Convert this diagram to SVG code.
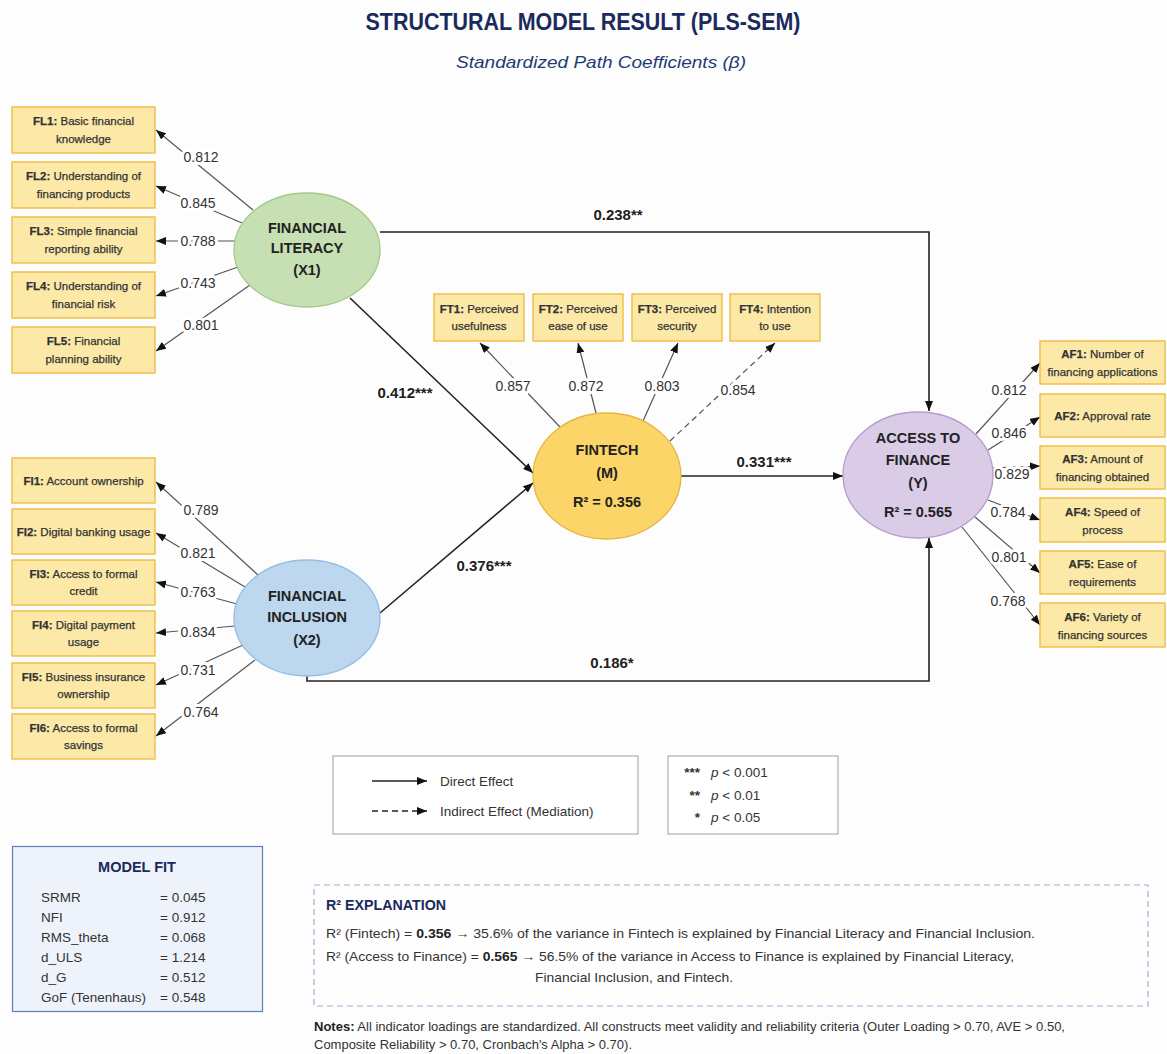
<svg xmlns="http://www.w3.org/2000/svg" width="1167" height="1054" viewBox="0 0 1167 1054">
<style>
.bx{fill:#fce9a8;stroke:#f0b835;stroke-width:1.3}
.bt{font-family:"Liberation Sans",Arial,sans-serif;font-size:11.5px;fill:#333;stroke:#333;stroke-width:0.25;text-anchor:middle}
.ct{font-family:"Liberation Sans",Arial,sans-serif;font-size:14.5px;font-weight:bold;fill:#222;text-anchor:middle}
.ld{font-family:"Liberation Sans",Arial,sans-serif;font-size:14px;fill:#333;text-anchor:middle;paint-order:stroke;stroke:#fff;stroke-width:6;stroke-linejoin:round}
.pc{font-family:"Liberation Sans",Arial,sans-serif;font-size:15px;font-weight:bold;fill:#222;text-anchor:middle;paint-order:stroke;stroke:#fff;stroke-width:6;stroke-linejoin:round}
.ll{stroke:#555;stroke-width:1.2;fill:none;marker-end:url(#ah)}
.sl{stroke:#222;stroke-width:1.6;fill:none;marker-end:url(#ah)}
.tx{font-family:"Liberation Sans",Arial,sans-serif;font-size:13.5px;fill:#333}
.nv{fill:#1b2a5c}
</style>
<defs>
<marker id="ah" viewBox="0 0 10 8" refX="10" refY="4" markerWidth="10" markerHeight="8" markerUnits="userSpaceOnUse" orient="auto"><path d="M0,0 L10,4 L0,8 z" fill="#111"/></marker>
</defs>
<rect width="1167" height="1054" fill="#fdfdfd"/>

<text x="583" y="30" font-family="Liberation Sans,Arial,sans-serif" font-size="24" font-weight="bold" fill="#1b2a5c" text-anchor="middle" textLength="435" lengthAdjust="spacingAndGlyphs">STRUCTURAL MODEL RESULT (PLS-SEM)</text>
<text x="601" y="68" font-family="Liberation Sans,Arial,sans-serif" font-size="16.5" font-style="italic" fill="#1f3a73" text-anchor="middle" textLength="290" lengthAdjust="spacingAndGlyphs">Standardized Path Coefficients (β)</text>

<g id="connectors">
<!-- FL loadings -->
<line class="ll" x1="253" y1="210" x2="156" y2="130"/>
<line class="ll" x1="242" y1="223" x2="156" y2="186"/>
<line class="ll" x1="235" y1="241" x2="156" y2="241"/>
<line class="ll" x1="238" y1="267" x2="156" y2="296"/>
<line class="ll" x1="250" y1="285" x2="156" y2="351"/>
<!-- FI loadings -->
<line class="ll" x1="258" y1="575" x2="156" y2="482"/>
<line class="ll" x1="245" y1="587" x2="156" y2="533"/>
<line class="ll" x1="237" y1="604" x2="156" y2="582"/>
<line class="ll" x1="235" y1="626" x2="156" y2="633"/>
<line class="ll" x1="243" y1="645" x2="156" y2="685"/>
<line class="ll" x1="255" y1="660" x2="156" y2="736"/>
<!-- FT loadings -->
<line class="ll" x1="560" y1="427" x2="480" y2="343"/>
<line class="ll" x1="596" y1="413" x2="578" y2="343"/>
<line class="ll" x1="643" y1="421" x2="678" y2="343"/>
<line class="ll" x1="670" y1="441" x2="775" y2="343" stroke="#999" stroke-dasharray="6 4"/>
<!-- AF loadings -->
<line class="ll" x1="976" y1="434" x2="1040" y2="363"/>
<line class="ll" x1="988" y1="450" x2="1040" y2="417"/>
<line class="ll" x1="993" y1="468" x2="1040" y2="466"/>
<line class="ll" x1="988" y1="500" x2="1040" y2="520"/>
<line class="ll" x1="975" y1="517" x2="1040" y2="573"/>
<line class="ll" x1="962" y1="527" x2="1040" y2="625"/>
<!-- structural paths -->
<path class="sl" d="M380,232 H929 V411"/>
<line class="sl" x1="350" y1="298" x2="533" y2="473"/>
<line class="sl" x1="380" y1="613" x2="533" y2="483"/>
<line class="sl" x1="681" y1="476" x2="843" y2="476"/>
<path class="sl" d="M307,675 V681 H929 V538"/>
<!-- loading labels -->
<text class="ld" x="201" y="162">0.812</text>
<text class="ld" x="198" y="208">0.845</text>
<text class="ld" x="198" y="246">0.788</text>
<text class="ld" x="198" y="288">0.743</text>
<text class="ld" x="201" y="330">0.801</text>
<text class="ld" x="201" y="515">0.789</text>
<text class="ld" x="198" y="558">0.821</text>
<text class="ld" x="198" y="597">0.763</text>
<text class="ld" x="198" y="637">0.834</text>
<text class="ld" x="198" y="675">0.731</text>
<text class="ld" x="201" y="717">0.764</text>
<text class="ld" x="513" y="391">0.857</text>
<text class="ld" x="586" y="391">0.872</text>
<text class="ld" x="662" y="391">0.803</text>
<text class="ld" x="738" y="395">0.854</text>
<text class="ld" x="1009" y="395">0.812</text>
<text class="ld" x="1009" y="438">0.846</text>
<text class="ld" x="1012" y="479">0.829</text>
<text class="ld" x="1008" y="517">0.784</text>
<text class="ld" x="1009" y="562">0.801</text>
<text class="ld" x="1008" y="606">0.768</text>
<!-- path coefficient labels -->
<text class="pc" x="618" y="220">0.238**</text>
<text class="pc" x="405" y="398">0.412***</text>
<text class="pc" x="484" y="571">0.376***</text>
<text class="pc" x="764" y="467">0.331***</text>
<text class="pc" x="612" y="668">0.186*</text>
</g>

<g id="FL">
<ellipse cx="307" cy="250" rx="73" ry="57" fill="#c6e0b4" stroke="#a3c987" stroke-width="1.3"/>
<text class="ct" x="307" y="233">FINANCIAL</text>
<text class="ct" x="307" y="253">LITERACY</text>
<text class="ct" x="307" y="275">(X1)</text>
</g>
<g id="FI">
<ellipse cx="307" cy="618" rx="73" ry="58" fill="#bdd7ee" stroke="#93bde3" stroke-width="1.3"/>
<text class="ct" x="307" y="601">FINANCIAL</text>
<text class="ct" x="307" y="622">INCLUSION</text>
<text class="ct" x="307" y="645">(X2)</text>
</g>
<g id="FT">
<ellipse cx="607" cy="476" rx="74" ry="63" fill="#fbd567" stroke="#e6b545" stroke-width="1.3"/>
<text class="ct" x="607" y="455">FINTECH</text>
<text class="ct" x="607" y="478">(M)</text>
<text class="ct" x="607" y="507">R² = 0.356</text>
</g>
<g id="AF">
<ellipse cx="918" cy="475" rx="75" ry="63" fill="#dacbe7" stroke="#b49ccc" stroke-width="1.3"/>
<text class="ct" x="918" y="443">ACCESS TO</text>
<text class="ct" x="918" y="465">FINANCE</text>
<text class="ct" x="918" y="488">(Y)</text>
<text class="ct" x="918" y="517">R² = 0.565</text>
</g>

<g id="FL1"><rect class="bx" x="12" y="107" width="143" height="46"/><text class="bt" x="83.5" y="125"><tspan font-weight="bold">FL1:</tspan> Basic financial</text><text class="bt" x="83.5" y="143">knowledge</text></g>
<g id="FL2"><rect class="bx" x="12" y="162" width="143" height="46"/><text class="bt" x="83.5" y="180"><tspan font-weight="bold">FL2:</tspan> Understanding of</text><text class="bt" x="83.5" y="198">financing products</text></g>
<g id="FL3"><rect class="bx" x="12" y="217" width="143" height="46"/><text class="bt" x="83.5" y="235"><tspan font-weight="bold">FL3:</tspan> Simple financial</text><text class="bt" x="83.5" y="253">reporting ability</text></g>
<g id="FL4"><rect class="bx" x="12" y="272" width="143" height="46"/><text class="bt" x="83.5" y="290"><tspan font-weight="bold">FL4:</tspan> Understanding of</text><text class="bt" x="83.5" y="308">financial risk</text></g>
<g id="FL5"><rect class="bx" x="12" y="327" width="143" height="46"/><text class="bt" x="83.5" y="345"><tspan font-weight="bold">FL5:</tspan> Financial</text><text class="bt" x="83.5" y="363">planning ability</text></g>

<g id="FI1"><rect class="bx" x="12" y="458" width="143" height="45"/><text class="bt" x="83.5" y="485"><tspan font-weight="bold">FI1:</tspan> Account ownership</text></g>
<g id="FI2"><rect class="bx" x="12" y="509" width="143" height="45"/><text class="bt" x="83.5" y="536"><tspan font-weight="bold">FI2:</tspan> Digital banking usage</text></g>
<g id="FI3"><rect class="bx" x="12" y="560" width="143" height="45"/><text class="bt" x="83.5" y="578"><tspan font-weight="bold">FI3:</tspan> Access to formal</text><text class="bt" x="83.5" y="595">credit</text></g>
<g id="FI4"><rect class="bx" x="12" y="611" width="143" height="45"/><text class="bt" x="83.5" y="629"><tspan font-weight="bold">FI4:</tspan> Digital payment</text><text class="bt" x="83.5" y="646">usage</text></g>
<g id="FI5"><rect class="bx" x="12" y="663" width="143" height="45"/><text class="bt" x="83.5" y="681"><tspan font-weight="bold">FI5:</tspan> Business insurance</text><text class="bt" x="83.5" y="698">ownership</text></g>
<g id="FI6"><rect class="bx" x="12" y="714" width="143" height="45"/><text class="bt" x="83.5" y="732"><tspan font-weight="bold">FI6:</tspan> Access to formal</text><text class="bt" x="83.5" y="749">savings</text></g>

<g id="FT1"><rect class="bx" x="434" y="294" width="90" height="47"/><text class="bt" x="479" y="313"><tspan font-weight="bold">FT1:</tspan> Perceived</text><text class="bt" x="479" y="330">usefulness</text></g>
<g id="FT2"><rect class="bx" x="533" y="294" width="90" height="47"/><text class="bt" x="578" y="313"><tspan font-weight="bold">FT2:</tspan> Perceived</text><text class="bt" x="578" y="330">ease of use</text></g>
<g id="FT3"><rect class="bx" x="632" y="294" width="90" height="47"/><text class="bt" x="677" y="313"><tspan font-weight="bold">FT3:</tspan> Perceived</text><text class="bt" x="677" y="330">security</text></g>
<g id="FT4"><rect class="bx" x="730" y="294" width="90" height="47"/><text class="bt" x="775" y="313"><tspan font-weight="bold">FT4:</tspan> Intention</text><text class="bt" x="775" y="330">to use</text></g>

<g id="AF1"><rect class="bx" x="1040" y="341" width="125" height="43"/><text class="bt" x="1102.5" y="358"><tspan font-weight="bold">AF1:</tspan> Number of</text><text class="bt" x="1102.5" y="376">financing applications</text></g>
<g id="AF2"><rect class="bx" x="1040" y="394" width="125" height="43"/><text class="bt" x="1102.5" y="420"><tspan font-weight="bold">AF2:</tspan> Approval rate</text></g>
<g id="AF3"><rect class="bx" x="1040" y="446" width="125" height="43"/><text class="bt" x="1102.5" y="463"><tspan font-weight="bold">AF3:</tspan> Amount of</text><text class="bt" x="1102.5" y="481">financing obtained</text></g>
<g id="AF4"><rect class="bx" x="1040" y="498" width="125" height="44"/><text class="bt" x="1102.5" y="516"><tspan font-weight="bold">AF4:</tspan> Speed of</text><text class="bt" x="1102.5" y="534">process</text></g>
<g id="AF5"><rect class="bx" x="1040" y="551" width="125" height="43"/><text class="bt" x="1102.5" y="568"><tspan font-weight="bold">AF5:</tspan> Ease of</text><text class="bt" x="1102.5" y="586">requirements</text></g>
<g id="AF6"><rect class="bx" x="1040" y="603" width="125" height="44"/><text class="bt" x="1102.5" y="621"><tspan font-weight="bold">AF6:</tspan> Variety of</text><text class="bt" x="1102.5" y="639">financing sources</text></g>

<g id="legend-lines">
<rect x="333" y="756" width="305" height="78" fill="#fff" stroke="#a0a0a0" stroke-width="1"/>
<line x1="372" y1="781" x2="427" y2="781" stroke="#222" stroke-width="1.5" marker-end="url(#ah)"/>
<text class="tx" x="440" y="786">Direct Effect</text>
<line x1="372" y1="811" x2="427" y2="811" stroke="#222" stroke-width="1.5" stroke-dasharray="6 4" marker-end="url(#ah)"/>
<text class="tx" x="440" y="816">Indirect Effect (Mediation)</text>
</g>
<g id="legend-p">
<rect x="668" y="756" width="170" height="78" fill="#fff" stroke="#a0a0a0" stroke-width="1"/>
<text class="tx" x="700" y="777" text-anchor="end" font-weight="bold">***</text>
<text class="tx" x="711" y="777"><tspan font-style="italic">p</tspan> &lt; 0.001</text>
<text class="tx" x="700" y="800" text-anchor="end" font-weight="bold">**</text>
<text class="tx" x="711" y="800"><tspan font-style="italic">p</tspan> &lt; 0.01</text>
<text class="tx" x="700" y="822" text-anchor="end" font-weight="bold">*</text>
<text class="tx" x="711" y="822"><tspan font-style="italic">p</tspan> &lt; 0.05</text>
</g>

<g id="model-fit">
<rect x="12.5" y="846.5" width="250" height="165" fill="#eef3fb" stroke="#5b7fb8" stroke-width="1.2"/>
<text x="137" y="872" font-family="Liberation Sans,Arial,sans-serif" font-size="14.5" font-weight="bold" class="nv" text-anchor="middle">MODEL FIT</text>
<g class="tx">
<text x="41" y="902">SRMR</text><text x="160" y="902">= 0.045</text>
<text x="41" y="922">NFI</text><text x="160" y="922">= 0.912</text>
<text x="41" y="942">RMS_theta</text><text x="160" y="942">= 0.068</text>
<text x="41" y="962">d_ULS</text><text x="160" y="962">= 1.214</text>
<text x="41" y="982">d_G</text><text x="160" y="982">= 0.512</text>
<text x="41" y="1002">GoF (Tenenhaus)</text><text x="160" y="1002">= 0.548</text>
</g>
</g>

<g id="r2-explanation">
<rect x="314" y="885" width="834" height="121" fill="#fefefe" stroke="#b9a3d3" stroke-width="1.2" stroke-dasharray="6 4"/>
<text x="326" y="910" font-family="Liberation Sans,Arial,sans-serif" font-size="14.5" font-weight="bold" class="nv" textLength="120" lengthAdjust="spacingAndGlyphs">R² EXPLANATION</text>
<text class="tx" x="326" y="938" textLength="709" lengthAdjust="spacingAndGlyphs">R² (Fintech) = <tspan font-weight="bold" fill="#222">0.356</tspan>  → 35.6% of the variance in Fintech is explained by Financial Literacy and Financial Inclusion.</text>
<text class="tx" x="326" y="961" textLength="688" lengthAdjust="spacingAndGlyphs">R² (Access to Finance) = <tspan font-weight="bold" fill="#222">0.565</tspan> → 56.5% of the variance in Access to Finance is explained by Financial Literacy,</text>
<text class="tx" x="535" y="982" textLength="198" lengthAdjust="spacingAndGlyphs">Financial Inclusion, and Fintech.</text>
</g>

<g id="notes">
<text class="tx" x="314" y="1031" font-size="12.5" textLength="751" lengthAdjust="spacingAndGlyphs"><tspan font-weight="bold" fill="#222">Notes:</tspan> All indicator loadings are standardized. All constructs meet validity and reliability criteria (Outer Loading &gt; 0.70, AVE &gt; 0.50,</text>
<text class="tx" x="314" y="1049" font-size="12.5" textLength="318" lengthAdjust="spacingAndGlyphs">Composite Reliability &gt; 0.70, Cronbach's Alpha &gt; 0.70).</text>
</g>
</svg>
